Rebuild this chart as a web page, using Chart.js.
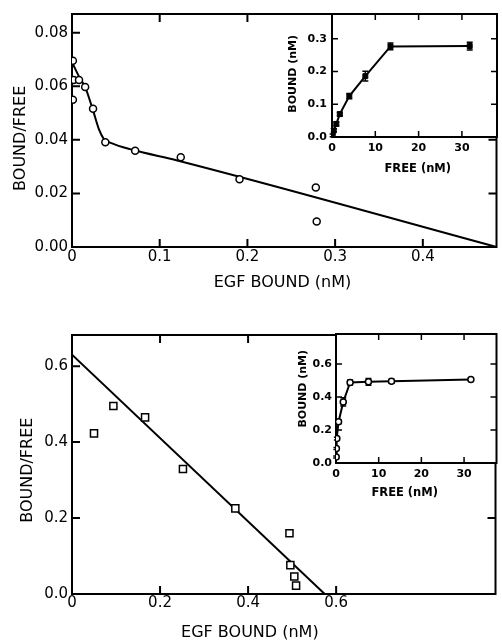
<!DOCTYPE html>
<html><head><meta charset="utf-8">
<script src="https://cdn.jsdelivr.net/npm/chart.js@4.4.0/dist/chart.umd.min.js"></script>
<style>
html,body{margin:0;padding:0;background:#fff;}
#wrap{position:relative;width:502px;height:641px;overflow:hidden;background:#fff;}
canvas{position:absolute;}
</style></head><body>
<div id="wrap">
<canvas id="topMain" width="502" height="300" style="left:0;top:0;width:502px;height:300px"></canvas>
<canvas id="bottomMain" width="502" height="341" style="left:0;top:300px;width:502px;height:341px"></canvas>
<canvas id="topInset" width="252" height="200" style="left:250px;top:0;width:252px;height:200px"></canvas>
<canvas id="bottomInset" width="252" height="200" style="left:250px;top:320px;width:252px;height:200px"></canvas>
</div>
<script>
// ---------- DATA ----------
// Top panel (Scatchard plot): EGF bound (nM) vs bound/free
const topBound = [0.001, 0.001, 0.002, 0.008, 0.015, 0.024, 0.038, 0.072, 0.124, 0.191, 0.278, 0.279];
const topRatio = [0.0695, 0.055, 0.0624, 0.0624, 0.0597, 0.0516, 0.0391, 0.0359, 0.0335, 0.0253, 0.0222, 0.0095];
const topFitBound = [0, 0.009, 0.015, 0.024, 0.031, 0.036, 0.045, 0.069, 0.12, 0.484];
const topFitRatio = [0.069, 0.063, 0.0597, 0.051, 0.0437, 0.0405, 0.0388, 0.0363, 0.0323, 0];
const topXTicks = [0, 0.1, 0.2, 0.3, 0.4];
const topXLabels = ['0', '0.1', '0.2', '0.3', '0.4'];
const topYTicks = [0, 0.02, 0.04, 0.06, 0.08];
const topYLabels = ['0.00', '0.02', '0.04', '0.06', '0.08'];

// Top inset: free (nM) vs bound (nM)
const topInFree = [0.15, 0.4, 1.0, 1.8, 4.0, 7.7, 13.5, 31.8];
const topInBound = [0.005, 0.02, 0.04, 0.07, 0.125, 0.186, 0.277, 0.278];
const topInErr = [0.004, 0.005, 0.006, 0.006, 0.008, 0.015, 0.01, 0.012];
const topInXTicks = [0, 10, 20, 30];
const topInXLabels = ['0', '10', '20', '30'];
const topInYTicks = [0, 0.1, 0.2, 0.3];
const topInYLabels = ['0.0', '0.1', '0.2', '0.3'];

// Bottom panel (Scatchard plot)
const botBound = [0.050, 0.094, 0.166, 0.252, 0.371, 0.494, 0.496, 0.505, 0.509];
const botRatio = [0.423, 0.495, 0.465, 0.329, 0.2255, 0.160, 0.076, 0.046, 0.022];
const botFitBound = [0, 0.574];
const botFitRatio = [0.63, 0];
const botXTicks = [0, 0.2, 0.4, 0.6];
const botXLabels = ['0', '0.2', '0.4', '0.6'];
const botYTicks = [0, 0.2, 0.4, 0.6];
const botYLabels = ['0.0', '0.2', '0.4', '0.6'];

// Bottom inset
const botInFree = [0.05, 0.1, 0.2, 0.6, 1.7, 3.3, 7.6, 13.0, 31.6];
const botInBound = [0.036, 0.088, 0.148, 0.25, 0.37, 0.488, 0.492, 0.496, 0.506];
const botInErr = [0.006, 0.006, 0.008, 0.012, 0.025, 0.015, 0.02, 0.012, 0.01];
const botInXTicks = [0, 10, 20, 30];
const botInXLabels = ['0', '10', '20', '30'];
const botInYTicks = [0, 0.2, 0.4, 0.6];
const botInYLabels = ['0.0', '0.2', '0.4', '0.6'];

// ---------- HELPERS ----------
const pts = (xs, ys) => xs.map((x, i) => ({x: x, y: ys[i]}));
const MAIN_TICK_FONT = {family: 'DejaVu Sans', size: 15, weight: 'normal'};
const INSET_TICK_FONT = {family: 'DejaVu Sans', size: 11, weight: 'bold'};

function axis(min, max, values, labels, font, pad, size, isX) {
  return {
    type: 'linear', min: min, max: max,
    grid: {display: false, drawTicks: false},
    border: {display: false},
    afterBuildTicks: s => { s.ticks = values.map(v => ({value: v})); },
    afterFit: s => { if (isX) s.height = size; else s.width = size; },
    ticks: {autoSkip: false, maxRotation: 0, minRotation: 0, padding: pad, color: '#000', font: font,
            callback: (v, i) => labels[i]}
  };
}

// per-canvas styling spec
const spec = {
  topMain: {frame: 2, tickLen: 8, tickW: 2, fill: false,
    titles: [
      {axis: 'x', text: 'EGF BOUND (nM)', font: '16px "DejaVu Sans"', value: 0.240, offset: 36},
      {axis: 'y', text: 'BOUND/FREE', font: '16px "DejaVu Sans"', value: 0.0406, offset: 51}
    ]},
  bottomMain: {frame: 2, tickLen: 8, tickW: 2, fill: false,
    titles: [
      {axis: 'x', text: 'EGF BOUND (nM)', font: '16px "DejaVu Sans"', value: 0.404, offset: 39},
      {axis: 'y', text: 'BOUND/FREE', font: '16px "DejaVu Sans"', value: 0.326, offset: 44}
    ]},
  topInset: {frame: 2, tickLen: 6, tickW: 1.5, fill: true, errors: topInErr,
    titles: [
      {axis: 'x', text: 'FREE (nM)', font: 'bold 11.5px "DejaVu Sans"', value: 19.8, offset: 32},
      {axis: 'y', text: 'BOUND (nM)', font: 'bold 11px "DejaVu Sans"', value: 0.193, offset: 39}
    ]},
  bottomInset: {frame: 2, tickLen: 6, tickW: 1.5, fill: true, errors: botInErr,
    titles: [
      {axis: 'x', text: 'FREE (nM)', font: 'bold 11.5px "DejaVu Sans"', value: 16.1, offset: 30},
      {axis: 'y', text: 'BOUND (nM)', font: 'bold 11px "DejaVu Sans"', value: 0.45, offset: 33}
    ]}
};

const panelPlugin = {
  id: 'panelPlugin',
  beforeDraw(chart) {
    const s = spec[chart.canvas.id]; if (!s || !s.fill) return;
    const a = chart.chartArea, ctx = chart.ctx;
    ctx.save(); ctx.fillStyle = '#fff';
    ctx.fillRect(a.left, a.top, a.right - a.left, a.bottom - a.top);
    ctx.restore();
  },
  beforeDatasetsDraw(chart) {
    const s = spec[chart.canvas.id]; if (!s) return;
    const a = chart.chartArea, ctx = chart.ctx, xs = chart.scales.x, ys = chart.scales.y;
    ctx.save();
    ctx.strokeStyle = '#000';
    ctx.lineWidth = s.frame;
    ctx.strokeRect(a.left, a.top, a.right - a.left, a.bottom - a.top);
    ctx.lineWidth = s.tickW;
    ctx.beginPath();
    xs.ticks.forEach(t => {
      if (t.value === xs.min) return;
      const p = xs.getPixelForValue(t.value);
      ctx.moveTo(p, a.bottom); ctx.lineTo(p, a.bottom - s.tickLen);
      ctx.moveTo(p, a.top); ctx.lineTo(p, a.top + s.tickLen);
    });
    ys.ticks.forEach(t => {
      if (t.value === ys.min) return;
      const p = ys.getPixelForValue(t.value);
      ctx.moveTo(a.left, p); ctx.lineTo(a.left + s.tickLen, p);
      ctx.moveTo(a.right, p); ctx.lineTo(a.right - s.tickLen, p);
    });
    ctx.stroke();
    // error bars
    if (s.errors) {
      const data = chart.data.datasets[0].data;
      ctx.lineWidth = 1.5;
      ctx.beginPath();
      data.forEach((d, i) => {
        const e = s.errors[i];
        const px = xs.getPixelForValue(d.x);
        const y1 = ys.getPixelForValue(d.y - e), y2 = ys.getPixelForValue(d.y + e);
        ctx.moveTo(px, y1); ctx.lineTo(px, y2);
        ctx.moveTo(px - 3, y1); ctx.lineTo(px + 3, y1);
        ctx.moveTo(px - 3, y2); ctx.lineTo(px + 3, y2);
      });
      ctx.stroke();
    }
    ctx.restore();
  },
  afterDraw(chart) {
    const s = spec[chart.canvas.id]; if (!s) return;
    const a = chart.chartArea, ctx = chart.ctx;
    s.titles.forEach(t => {
      ctx.save();
      ctx.font = t.font; ctx.fillStyle = '#000';
      ctx.textAlign = 'center'; ctx.textBaseline = 'middle';
      if (t.axis === 'x') {
        ctx.fillText(t.text, chart.scales.x.getPixelForValue(t.value), a.bottom + t.offset);
      } else {
        ctx.translate(a.left - t.offset, chart.scales.y.getPixelForValue(t.value));
        ctx.rotate(-Math.PI / 2);
        ctx.fillText(t.text, 0, 0);
      }
      ctx.restore();
    });
  }
};
Chart.register(panelPlugin);
Chart.defaults.font.family = 'DejaVu Sans';
Chart.defaults.color = '#000';

const baseOpts = (padTop, xAxis, yAxis) => ({
  responsive: false, maintainAspectRatio: false, animation: false, devicePixelRatio: 1,
  layout: {padding: {left: 0, top: padTop, right: 2, bottom: 0}},
  plugins: {legend: {display: false}, tooltip: {enabled: false}, title: {display: false}},
  scales: {x: xAxis, y: yAxis}
});

// ---------- TOP MAIN ----------
new Chart(document.getElementById('topMain'), {
  type: 'scatter',
  data: {datasets: [
    {data: pts(topBound, topRatio), pointStyle: 'circle', pointRadius: 3.5, pointBorderWidth: 1.5,
     pointBorderColor: '#000', pointBackgroundColor: '#fff', showLine: false},
    {data: pts(topFitBound, topFitRatio), showLine: true, borderColor: '#000', borderWidth: 2,
     pointRadius: 0, cubicInterpolationMode: 'monotone'}
  ]},
  options: baseOpts(14,
    axis(0, 0.484, topXTicks, topXLabels, MAIN_TICK_FONT, 1, 53, true),
    axis(0, 0.087, topYTicks, topYLabels, MAIN_TICK_FONT, 4, 72, false))
});

// ---------- BOTTOM MAIN ----------
new Chart(document.getElementById('bottomMain'), {
  type: 'scatter',
  data: {datasets: [
    {data: pts(botBound, botRatio), pointStyle: 'rect', pointRadius: 5, pointBorderWidth: 1.5,
     pointBorderColor: '#000', pointBackgroundColor: '#fff', showLine: false},
    {data: pts(botFitBound, botFitRatio), showLine: true, borderColor: '#000', borderWidth: 2, pointRadius: 0}
  ]},
  options: baseOpts(35,
    axis(0, 0.962, botXTicks, botXLabels, MAIN_TICK_FONT, 0, 47, true),
    axis(0, 0.682, botYTicks, botYLabels, MAIN_TICK_FONT, 4, 72, false))
});

// ---------- TOP INSET ----------
new Chart(document.getElementById('topInset'), {
  type: 'scatter',
  data: {datasets: [
    {data: pts(topInFree, topInBound), showLine: true, borderColor: '#000', borderWidth: 2,
     pointStyle: 'rect', pointRadius: 3.5, pointBackgroundColor: '#000', pointBorderColor: '#000', pointBorderWidth: 1}
  ]},
  options: baseOpts(14,
    axis(0, 38.1, topInXTicks, topInXLabels, INSET_TICK_FONT, 5, 63, true),
    axis(0, 0.376, topInYTicks, topInYLabels, INSET_TICK_FONT, 5, 82, false))
});

// ---------- BOTTOM INSET ----------
new Chart(document.getElementById('bottomInset'), {
  type: 'scatter',
  data: {datasets: [
    {data: pts(botInFree, botInBound), showLine: true, borderColor: '#000', borderWidth: 2,
     pointStyle: 'circle', pointRadius: 3, pointBackgroundColor: '#fff', pointBorderColor: '#000', pointBorderWidth: 1.5}
  ]},
  options: baseOpts(14,
    axis(0, 37.6, botInXTicks, botInXLabels, INSET_TICK_FONT, 5, 57, true),
    axis(0, 0.782, botInYTicks, botInYLabels, INSET_TICK_FONT, 4, 86, false))
});
</script>
</body></html>
